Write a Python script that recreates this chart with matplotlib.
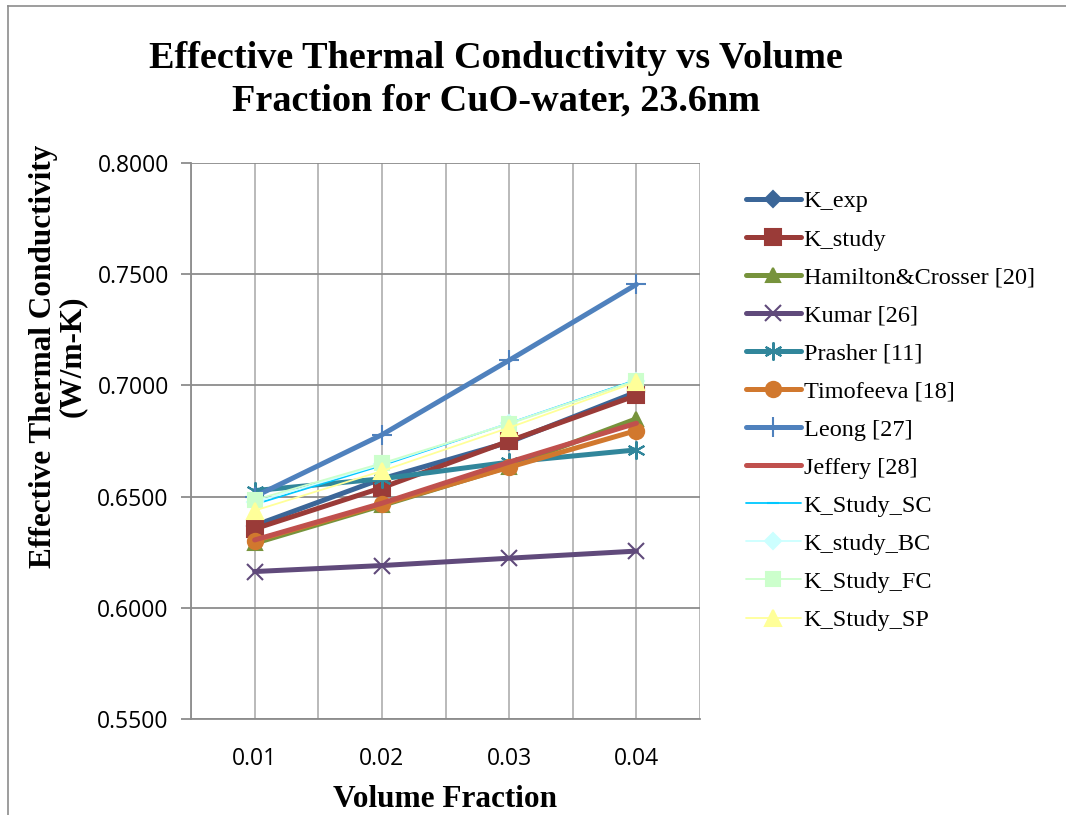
import matplotlib.pyplot as plt
from matplotlib.lines import Line2D

fractions = ["0.01", "0.02", "0.03", "0.04"]

k_exp = [0.6370, 0.6580, 0.6745, 0.6970]
k_study = [0.6355, 0.6540, 0.6750, 0.6955]
hamilton = [0.6290, 0.6460, 0.6635, 0.6850]
kumar = [0.6163, 0.6190, 0.6223, 0.6255]
prasher = [0.6527, 0.6580, 0.6655, 0.6710]
timofeeva = [0.6302, 0.6465, 0.6632, 0.6797]
leong = [0.6500, 0.6778, 0.7113, 0.7454]
jeffery = [0.6305, 0.6470, 0.6655, 0.6830]
k_sc = [0.6465, 0.6640, 0.6830, 0.7025]
k_bc = [0.6475, 0.6645, 0.6830, 0.7022]
k_fc = [0.6485, 0.6650, 0.6827, 0.7022]
k_sp = [0.6437, 0.6615, 0.6810, 0.7015]

series = [
	("K_exp", k_exp, "#3b6698", "D", 3.6, 8),
	("K_study", k_study, "#9a3b38", "s", 3.6, 11),
	("Hamilton&Crosser [20]", hamilton, "#77933c", "^", 3.6, 10),
	("Kumar [26]", kumar, "#604a7b", "x", 3.6, 11),
	("Prasher [11]", prasher, "#31869b", (6, 2, 0), 3.6, 13),
	("Timofeeva [18]", timofeeva, "#d1782e", "o", 3.6, 11),
	("Leong [27]", leong, "#4f81bd", "+", 3.6, 14),
	("Jeffery [28]", jeffery, "#c0504d", "None", 3.6, 0),
	("K_Study_SC", k_sc, "#00c8ff", "_", 1.3, 9),
	("K_study_BC", k_bc, "#ccffff", "D", 1.3, 8),
	("K_Study_FC", k_fc, "#ccffcc", "s", 1.3, 10),
	("K_Study_SP", k_sp, "#ffff99", "^", 1.3, 11),
]

fig = plt.figure(figsize=(10.66, 8.15), dpi=100)
ax = fig.add_axes([0.1792, 0.1178, 0.4775, 0.6822])

x = list(range(1, len(fractions) + 1))
for name, vals, col, mk, lw, ms in series:
	ax.plot(x, vals, color=col, lw=lw, marker=mk, markersize=ms,
		markeredgecolor=col, markerfacecolor=col, markeredgewidth=1.5,
		label=name, solid_capstyle="round")

ax.set_xlim(0.5, 4.5)
ax.set_ylim(0.55, 0.80)
ax.set_xticks(x)
ax.set_xticklabels(fractions)
ax.set_xticks([0.5, 1.5, 2.5, 3.5, 4.5], minor=True)
ax.set_yticks([0.55, 0.60, 0.65, 0.70, 0.75, 0.80])
ax.set_yticklabels(["%.4f" % v for v in [0.55, 0.60, 0.65, 0.70, 0.75, 0.80]])
ax.grid(axis="x", which="both", color="#b4b4b4", lw=1.3)
ax.grid(axis="y", color="#8c8c8c", lw=1.3)
ax.set_axisbelow(True)
for s in ["top", "right"]:
	ax.spines[s].set_visible(False)
for s in ["left", "bottom"]:
	ax.spines[s].set_color("#8c8c8c")
	ax.spines[s].set_linewidth(1.3)
ax.tick_params(axis="x", which="both", length=0, pad=20, labelsize=16.5)
ax.tick_params(axis="y", length=7, color="#8c8c8c", width=1.3, pad=9, labelsize=16.5)
for t in ax.get_xticklabels() + ax.get_yticklabels():
	t.set_family("Open Sans")

ax.set_xlabel("Volume Fraction", family="Liberation Serif", weight="bold", fontsize=22.5, labelpad=10)
fig.text(0.054, 0.563, "Effective Thermal Conductivity\n(W/m-K)", rotation=90,
	family="Liberation Serif", weight="bold", fontsize=22.5, ha="center", va="center",
	linespacing=1.0)
fig.text(0.465, 0.902, "Effective Thermal Conductivity vs Volume\nFraction for CuO-water, 23.6nm",
	family="Liberation Serif", weight="bold", fontsize=27.5, ha="center", va="center",
	linespacing=1.3)

leg = ax.legend(loc="upper left", bbox_to_anchor=(1.047, 0.99), frameon=False,
	prop={"family": "Liberation Serif", "size": 17.5}, handlelength=2.26,
	labelspacing=0.66, handletextpad=0.12, numpoints=1)

# chart area border (top and left only visible)
fig.lines.append(Line2D([8 / 1066, 1.0], [1 - 6 / 815] * 2, transform=fig.transFigure,
	color="#8c8c8c", lw=1.2))
fig.lines.append(Line2D([8 / 1066] * 2, [0.0, 1 - 6 / 815], transform=fig.transFigure,
	color="#8c8c8c", lw=1.2))

fig.savefig("out.png", dpi=100)
